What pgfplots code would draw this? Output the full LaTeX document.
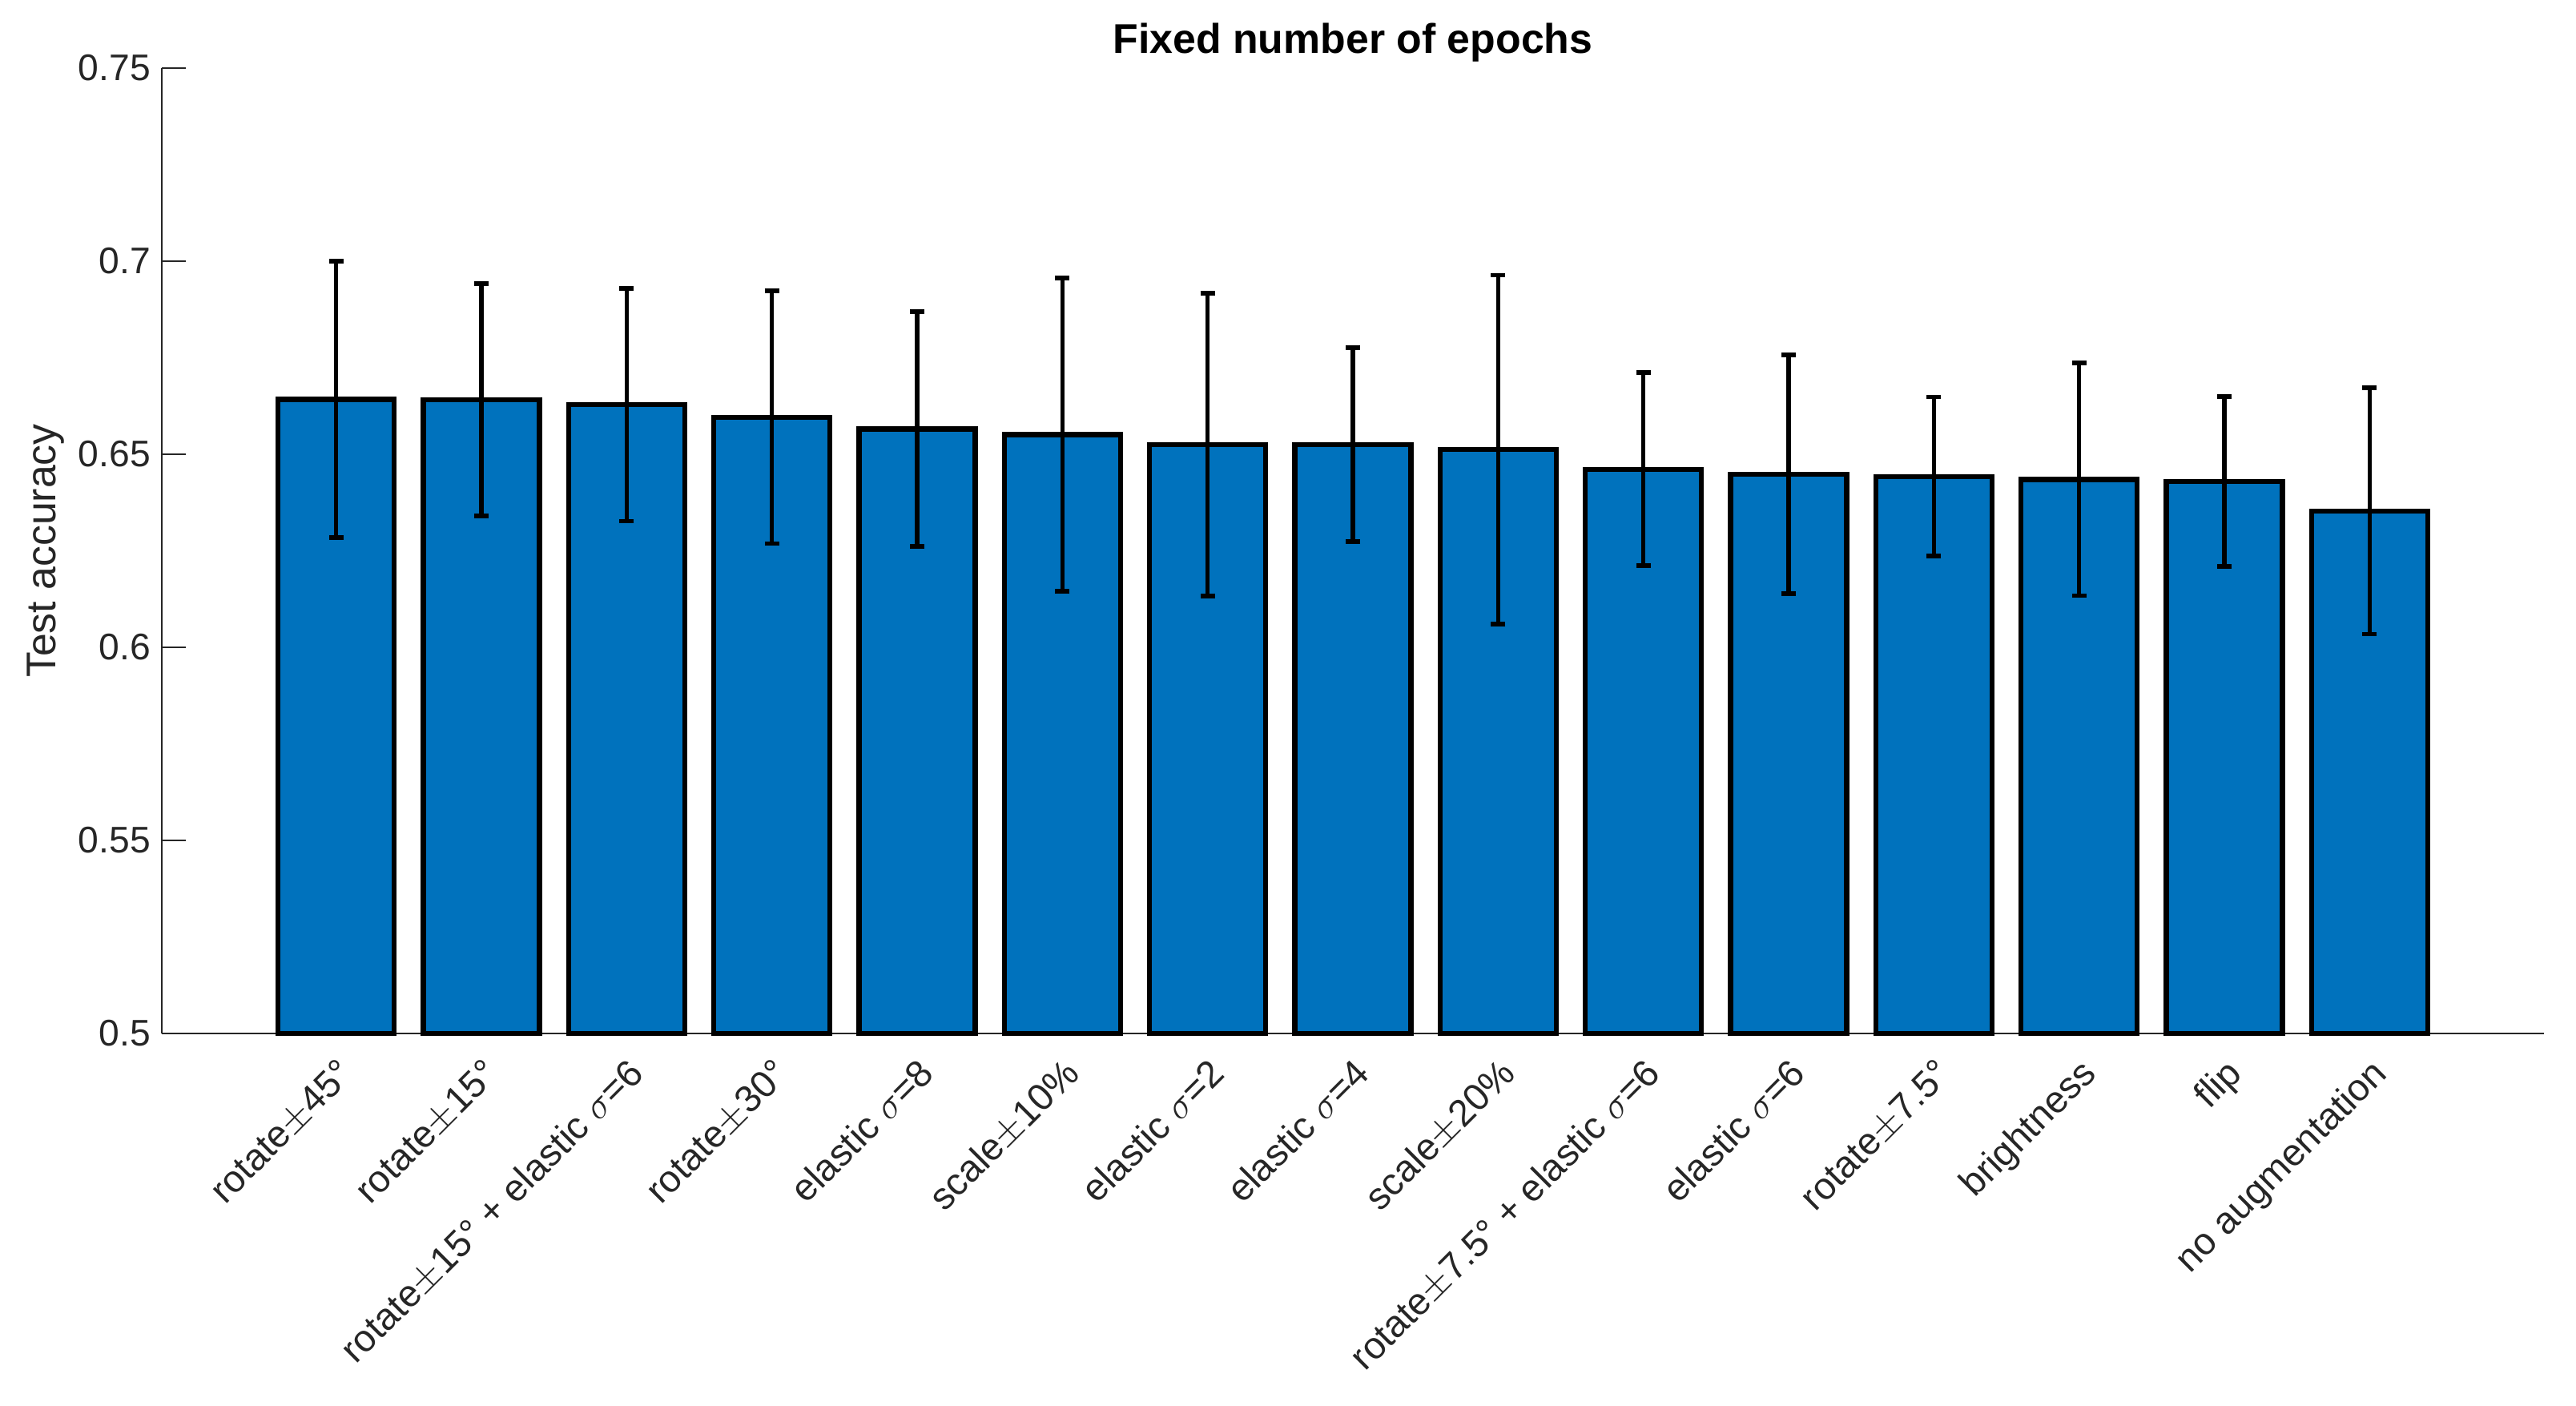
\documentclass[border=0pt]{standalone}
\usepackage{fontspec}
\setmainfont{Liberation Sans}
\usepackage{pgfplots}
\pgfplotsset{compat=1.18}
\definecolor{barblue}{HTML}{0072BD}
\definecolor{axgray}{HTML}{262626}

\begin{document}
\begin{tikzpicture}
\useasboundingbox (-50.5bp,-116.25bp) rectangle (753.5bp,322.5bp);
\begin{axis}[
  at={(0,0)}, anchor=south west,
  scale only axis, width=743.5bp, height=301.25bp,
  xmin=-0.2, xmax=16.2,
  ymin=0.5, ymax=0.75,
  clip=false,
  axis x line=bottom, axis y line=left,
  axis line style={-, draw=axgray, line width=0.5bp},
  tick align=inside,
  major tick length=7.5bp,
  x tick style={draw=none},
  y tick style={draw=axgray, line width=0.5bp},
  ytick={0.5,0.55,0.6,0.65,0.7,0.75},
  yticklabels={0.5,0.55,0.6,0.65,0.7,0.75},
  yticklabel style={font=\fontsize{11.6}{14}\selectfont, text=axgray},
  xtick={1,...,15},
  xticklabels={
    {rotate$\pm$45°},
    {rotate$\pm$15°},
    {rotate$\pm$15° + elastic $\sigma$=6},
    {rotate$\pm$30°},
    {elastic $\sigma$=8},
    {scale$\pm$10\%},
    {elastic $\sigma$=2},
    {elastic $\sigma$=4},
    {scale$\pm$20\%},
    {rotate$\pm$7.5° + elastic $\sigma$=6},
    {elastic $\sigma$=6},
    {rotate$\pm$7.5°},
    {brightness},
    {flip},
    {no augmentation}},
  xticklabel style={xshift=6bp, yshift=-13bp, rotate=45, anchor=base east,
    inner xsep=0pt, font=\fontsize{11.8}{14}\selectfont, text=axgray},
  title={Fixed number of epochs},
  every axis title shift=0pt,
  title style={at={(0.5,1)}, anchor=base, yshift=4.5bp,
    font=\fontsize{13}{15}\selectfont\bfseries},
  ylabel={Test accuracy},
  ylabel style={at={(axis description cs:-0.0488,0.5)}, anchor=center,
    font=\fontsize{13}{15}\selectfont, text=axgray},
]
\addplot[ybar, bar width=0.8, bar shift=0, fill=barblue, draw=black,
  line width=1.6bp,
  error bars/.cd, y dir=both, y explicit,
  error bar style={line width=1.3bp, black},
  error mark options={rotate=90, line width=1.4bp, mark size=2.25bp, black}]
coordinates {
  (1,0.6642) +- (0,0.0358)
  (2,0.6641) +- (0,0.0301)
  (3,0.6628) +- (0,0.0301)
  (4,0.6596) +- (0,0.0327)
  (5,0.6565) +- (0,0.0304)
  (6,0.6551) +- (0,0.0406)
  (7,0.6525) +- (0,0.0392)
  (8,0.6525) +- (0,0.0251)
  (9,0.6512) +- (0,0.0452)
  (10,0.6461) +- (0,0.0250)
  (11,0.6448) +- (0,0.0309)
  (12,0.6442) +- (0,0.0206)
  (13,0.6435) +- (0,0.0301)
  (14,0.6429) +- (0,0.0220)
  (15,0.6353) +- (0,0.0319)
};
\end{axis}
\end{tikzpicture}
\end{document}
